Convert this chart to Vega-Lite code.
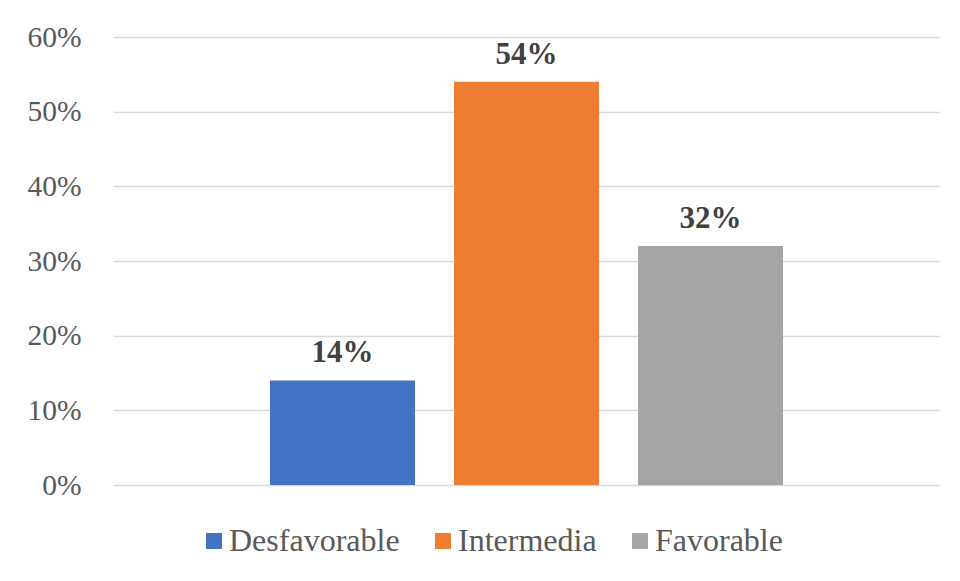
{
  "$schema": "https://vega.github.io/schema/vega-lite/v6.json",
  "width": 827,
  "height": 448,
  "autosize": {"type": "none"},
  "padding": {"left": 113, "top": 37, "right": 20, "bottom": 96},
  "background": "white",
  "data": {
    "values": [
      {"categoria": "Desfavorable", "valor": 0.14},
      {"categoria": "Intermedia", "valor": 0.54},
      {"categoria": "Favorable", "valor": 0.32}
    ]
  },
  "encoding": {
    "x": {
      "field": "categoria",
      "type": "nominal",
      "sort": ["Desfavorable", "Intermedia", "Favorable"],
      "scale": {"paddingInner": 0.212, "paddingOuter": 0.853},
      "axis": null
    },
    "y": {
      "field": "valor",
      "type": "quantitative",
      "scale": {"domain": [0, 0.6], "nice": false},
      "axis": {
        "values": [0, 0.1, 0.2, 0.3, 0.4, 0.5, 0.6],
        "format": ".0%",
        "title": null,
        "domain": false,
        "ticks": false,
        "labelPadding": 32,
        "labelFont": "Liberation Serif",
        "labelFontSize": 29.5,
        "labelColor": "#595959",
        "gridColor": "#D9D9D9",
        "gridWidth": 1.3
      }
    }
  },
  "layer": [
    {
      "mark": {"type": "bar"},
      "encoding": {
        "color": {
          "field": "categoria",
          "type": "nominal",
          "sort": ["Desfavorable", "Intermedia", "Favorable"],
          "scale": {
            "domain": ["Desfavorable", "Intermedia", "Favorable"],
            "range": ["#4472C4", "#ED7D31", "#A5A5A5"]
          },
          "legend": {
            "title": null,
            "orient": "none",
            "direction": "horizontal",
            "legendX": 85,
            "legendY": 488,
            "padding": 0,
            "symbolType": "square",
            "symbolSize": 256,
            "symbolStrokeWidth": 0,
            "symbolOpacity": 1,
            "labelOffset": -1,
            "columnPadding": 27,
            "labelFont": "Liberation Serif",
            "labelFontSize": 32,
            "labelColor": "#595959",
            "labelLimit": 400
          }
        }
      }
    },
    {
      "mark": {
        "type": "text",
        "baseline": "middle",
        "dy": -27,
        "font": "Liberation Serif",
        "fontSize": 31,
        "fontWeight": "bold",
        "color": "#404040"
      },
      "encoding": {
        "text": {"field": "valor", "type": "quantitative", "format": ".0%"}
      }
    }
  ],
  "config": {"view": {"stroke": null}}
}
